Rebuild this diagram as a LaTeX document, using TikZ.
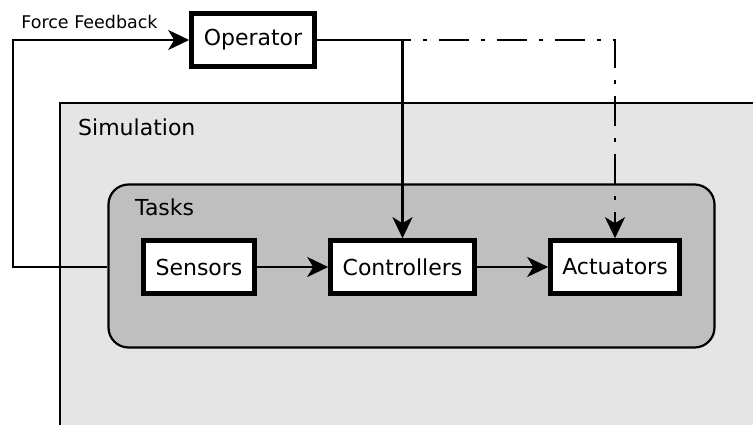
\documentclass[tikz,border=0pt]{standalone}
\usepackage{fontspec}
\setmainfont{DejaVu Sans}
\usetikzlibrary{arrows.meta,positioning}

\begin{document}
\begin{tikzpicture}[
  x=1pt, y=-1pt,
  font=\fontsize{22}{26}\selectfont,
  zone/.style={draw=black, line width=2.2pt},
  blk/.style={draw=black, line width=4.6pt, fill=white, minimum height=53pt, inner sep=0pt},
  a/.style={-{Stealth[length=21pt, width=20pt, inset=6pt]}, line width=2.5pt},
  dd/.style={a, dash pattern=on 30pt off 12pt on 4pt off 12pt, dash phase=-6pt}
]
\useasboundingbox (0,0) rectangle (753,425);
\clip (0,0) rectangle (753,425);

% outer simulation area, runs off the page
\path[zone, fill=black!10] (60,103) rectangle (790,460);
\node[anchor=west, inner sep=0pt] (simlabel) at (78,127) {Simulation};

% task group
\node[zone, fill=black!25, rounded corners=20pt, minimum width=606pt, minimum height=163pt] (tasks) at (411.5,266) {};
\node[anchor=west, inner sep=0pt] (tasklabel) at (135,207) {Tasks};

\node[blk, minimum width=111pt] (sensors) at (199,267) {Sensors};
\node[blk, minimum width=144pt] (controllers) at (402.5,267) {Controllers};
\node[blk, minimum width=129pt] (actuators) at (615,267) {Actuators};

\node[blk, minimum width=123pt] (operator) at (253,40) {Operator};
\node[font=\fontsize{17.5}{21}\selectfont, inner sep=0pt] (fblabel) at (89.5,22) {Force Feedback};

\coordinate (fb) at (13,40);

\draw[a] (sensors) -- (controllers);
\draw[a] (controllers) -- (actuators);
\draw[a] (tasks.west |- sensors) -- (fb |- sensors) -- (fb) -- (operator);
\draw[a] (operator.east) -| (controllers.north);
\draw[dd] (operator.east) -| (actuators.north);
\end{tikzpicture}
\end{document}
